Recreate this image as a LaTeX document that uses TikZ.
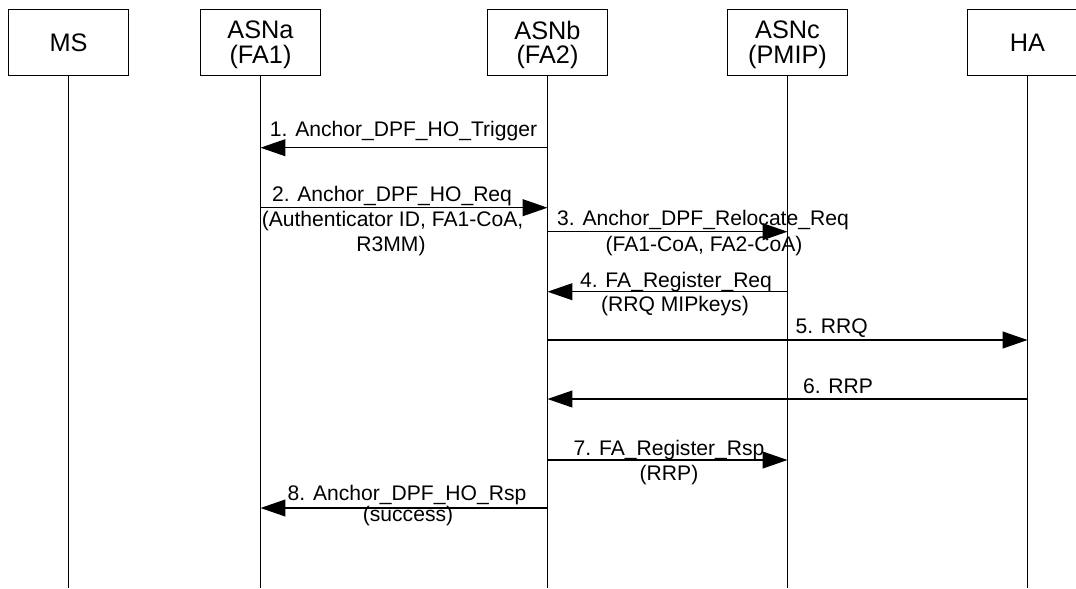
\documentclass[tikz,border=0pt]{standalone}
\usepackage{fontspec}
\setmainfont{Liberation Sans}
\usetikzlibrary{arrows.meta}
\begin{document}
\begin{tikzpicture}[x=0.025cm,y=-0.025cm,line width=0.9pt,
  entity/.style={draw,minimum width=3cm,minimum height=1.65cm,align=center,inner sep=0pt,
    text depth=0pt,font=\fontsize{18}{19}\selectfont},
  msg/.style={-{Triangle[length=6.2mm,width=4.2mm]}},
  lbl/.style={anchor=base,inner sep=0pt,font=\fontsize{15}{18}\selectfont}]
\useasboundingbox (0,0) rectangle (1076,588);
\clip (0,0) rectangle (1076,588);
% entities and lifelines
\node[entity] (ms) at (68.5,42.4) {MS};
\node[entity] (asna) at (260.5,42.4) {ASNa\\[-1.5pt](FA1)};
\node[entity] (asnb) at (547.5,42.4) {ASNb\\[-1.5pt](FA2)};
\node[entity] (asnc) at (787.5,42.4) {ASNc\\[-1.5pt](PMIP)};
\node[entity] (ha) at (1027.5,42.4) {HA};
\foreach \e in {ms,asna,asnb,asnc,ha}
  \draw (\e.south) -- (\e |- 0,588);
% messages
\draw[msg] (asnb |- 0,147.7) -- (asna |- 0,147.7);
\node[lbl] (t1) at (403.5,136.7) {1. Anchor\_DPF\_HO\_Trigger};
\draw[msg] (asna |- 0,207.7) -- (asnb |- 0,207.7);
\node[lbl] (t2) at (392,201.7) {2. Anchor\_DPF\_HO\_Req};
\node[lbl] (t2a) at (392.5,226.7) {(Authenticator ID, FA1-CoA,};
\node[lbl] (t2b) at (391,251.7) {R3MM)};
\draw[msg] (asnb |- 0,231.7) -- (asnc |- 0,231.7);
\node[lbl] (t3) at (703,225) {3. Anchor\_DPF\_Relocate\_Req};
\node[lbl] (t3a) at (704,251.5) {(FA1-CoA, FA2-CoA)};
\draw[msg] (asnc |- 0,291.7) -- (asnb |- 0,291.7);
\node[lbl] (t4) at (676,287.5) {4. FA\_Register\_Req};
\node[lbl] (t4a) at (675,311) {(RRQ MIPkeys)};
\draw[msg] (asnb |- 0,340) -- (ha |- 0,340);
\node[lbl] (t5) at (831.7,333.3) {5. RRQ};
\draw[msg] (ha |- 0,399) -- (asnb |- 0,399);
\node[lbl] (t6) at (838,393) {6. RRP};
\draw[msg] (asnb |- 0,460) -- (asnc |- 0,460);
\node[lbl] (t7) at (669,455) {7. FA\_Register\_Rsp};
\node[lbl] (t7a) at (669,480) {(RRP)};
\draw[msg] (asnb |- 0,508) -- (asna |- 0,508);
\node[lbl] (t8) at (407,500) {8. Anchor\_DPF\_HO\_Rsp};
\node[lbl] (t8a) at (408,521.7) {(success)};
\end{tikzpicture}
\end{document}
